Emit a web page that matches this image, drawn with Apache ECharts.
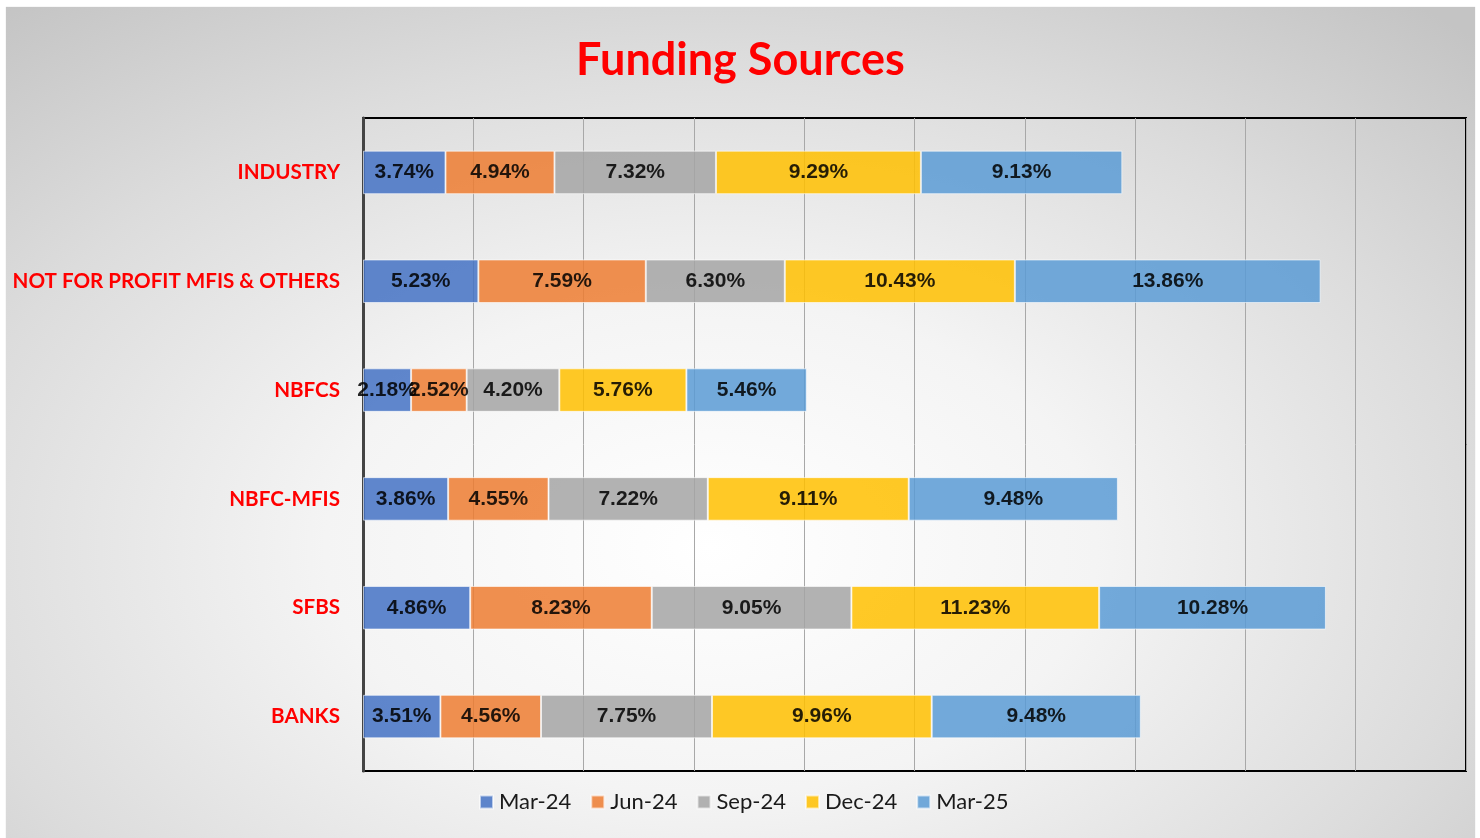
<!DOCTYPE html>
<html>
<head>
<meta charset="utf-8">
<script src="https://cdn.jsdelivr.net/npm/echarts@6/dist/echarts.min.js"></script>
<style>
  html, body { margin: 0; padding: 0; background: #fff; }
  #wrap { position: relative; width: 1480px; height: 838px; background: #fff; }
  #chart {
    position: absolute; left: 6px; top: 7px; width: 1469px; height: 831px;
    background: radial-gradient(ellipse 75% 85% at 48% 65%, #ffffff 0%, #f4f4f4 35%, #dcdcdc 70%, #c4c4c4 100%);
    box-shadow: 0 0 1px #ccc;
  }
</style>
</head>
<body>
<div id="wrap"><div id="chart"></div></div>
<script>
// categories bottom -> top
const categories = ["BANKS", "SFBS", "NBFC-MFIS", "NBFCS", "NOT FOR PROFIT MFIS & OTHERS", "INDUSTRY"];
const seriesNames = ["Mar-24", "Jun-24", "Sep-24", "Dec-24", "Mar-25"];
const mar24 = [3.51, 4.86, 3.86, 2.18, 5.23, 3.74];
const jun24 = [4.56, 8.23, 4.55, 2.52, 7.59, 4.94];
const sep24 = [7.75, 9.05, 7.22, 4.20, 6.30, 7.32];
const dec24 = [9.96, 11.23, 9.11, 5.76, 10.43, 9.29];
const mar25 = [9.48, 10.28, 9.48, 5.46, 13.86, 9.13];
const colors = ["#4472C4", "#ED7D31", "#A5A5A5", "#FFC000", "#5B9BD5"];

const values = [mar24, jun24, sep24, dec24, mar25];
const font = "Lato, sans-serif";
const labelFont = "Liberation Sans, Arial, sans-serif";

const myChart = echarts.init(document.getElementById("chart"));
const option = {
  animation: false,
  color: colors,
  title: {
    text: "Funding Sources",
    left: "center",
    top: 26,
    textStyle: { color: "#FF0000", fontSize: 45, fontWeight: "bold", fontFamily: font }
  },
  legend: {
    bottom: 20,
    left: 468,
    itemWidth: 13,
    itemHeight: 13,
    itemGap: 19,
    icon: "rect",
    textStyle: { color: "#1a1a1a", fontSize: 22, fontFamily: font, padding: [0, 0, 0, 1] },
    data: seriesNames
  },
  grid: {
    left: 357,
    top: 111,
    right: 9,
    bottom: 67,
    outerBoundsMode: "none",
    show: true,
    borderColor: "#000",
    borderWidth: 2,
    backgroundColor: "transparent"
  },
  xAxis: {
    type: "value",
    min: 0,
    max: 50,
    interval: 5,
    axisLabel: { show: false },
    axisLine: { show: false },
    axisTick: { show: false },
    splitLine: { lineStyle: { color: "#a8a8a8", width: 1 } }
  },
  yAxis: {
    type: "category",
    data: categories,
    axisTick: { show: false },
    axisLine: { lineStyle: { color: "#444", width: 3 } },
    axisLabel: {
      color: "#FF0000",
      fontSize: 20.6,
      fontWeight: "bold",
      fontFamily: font,
      margin: 23
    }
  },
  series: seriesNames.map((name, i) => ({
    name: name,
    type: "bar",
    stack: "total",
    barWidth: "40%",
    data: values[i],
    itemStyle: {
      opacity: 0.85,
      borderColor: "rgba(255,255,255,0.7)",
      borderWidth: 1
    },
    label: {
      show: true,
      position: "inside",
      color: "#000",
      fontSize: 21,
      fontWeight: "bold",
      fontFamily: labelFont,
      formatter: p => p.value.toFixed(2) + "%"
    }
  }))
};
myChart.setOption(option);
</script>
</body>
</html>
